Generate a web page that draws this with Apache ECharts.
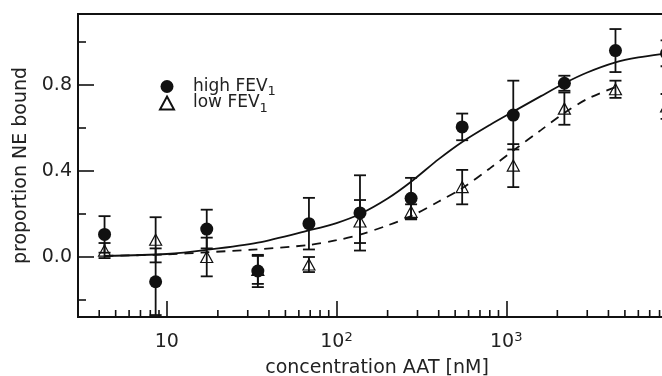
<!DOCTYPE html>
<html><head><meta charset="utf-8">
<script src="https://cdn.jsdelivr.net/npm/echarts@6/dist/echarts.min.js"></script>
<style>html,body{margin:0;padding:0;background:#fff}#c{width:662px;height:376px}</style>
</head><body><div id="c"></div>
<script>
// ---- data ----
const concentrations = [4.3, 8.6, 17.2, 34.4, 68.8, 137.5, 275, 550, 1100, 2200, 4400, 8800];
const highMean = [0.105, -0.115, 0.13, -0.065, 0.155, 0.205, 0.273, 0.605, 0.66, 0.808, 0.96, 0.947];
const highErr  = [0.085, 0.155, 0.09, 0.075, 0.12, 0.175, 0.095, 0.062, 0.16, 0.035, 0.10, 0.06];
const lowMean  = [0.03, 0.08, 0.0, -0.06, -0.035, 0.165, 0.21, 0.325, 0.425, 0.69, 0.78, 0.70];
const lowErr   = [0.035, 0.105, 0.09, 0.065, 0.035, 0.10, 0.035, 0.08, 0.10, 0.075, 0.04, 0.058];
const highFitX = [4.3, 10, 17.2, 34.4, 68.8, 100, 137.5, 200, 275, 400, 550, 800, 1100, 1600, 2200, 3000, 4400, 6000, 8800, 10000];
const highFit  = [0.005, 0.014, 0.033, 0.067, 0.124, 0.158, 0.200, 0.272, 0.35, 0.455, 0.535, 0.614, 0.676, 0.748, 0.808, 0.858, 0.905, 0.928, 0.947, 0.952];
const lowFitX  = [4.3, 10, 17.2, 34.4, 68.8, 100, 137.5, 200, 275, 400, 550, 800, 1100, 1600, 2200, 3000, 4400];
const lowFit   = [0.005, 0.012, 0.022, 0.036, 0.056, 0.078, 0.104, 0.147, 0.19, 0.258, 0.32, 0.412, 0.495, 0.59, 0.67, 0.735, 0.79];
const yMajorTicks = [0, 0.4, 0.8];
const yMinorTicks = [-0.2, 0.2, 0.6, 1.0];
const xMinorTicks = [4, 5, 6, 7, 8, 9, 20, 30, 40, 50, 60, 70, 80, 90, 200, 300, 400, 500, 600, 700, 800, 900, 2000, 3000, 4000, 5000, 6000, 7000, 8000, 9000];
const seriesNames = ['high FEV1', 'low FEV1'];

const Y_MIN = -0.279, Y_MAX = 1.13, X_MIN = 3, X_MAX = 10000;
const ink = '#111';
const font = 'DejaVu Sans';

function errData(mean, err) { return concentrations.map((c, i) => [c, mean[i], err[i]]); }
function renderErr(params, api) {
  const x = api.value(0), y = api.value(1), e = api.value(2);
  const t = api.coord([x, y + e]), b = api.coord([x, y - e]);
  const hw = 6, st = { stroke: ink, lineWidth: 1.8 };
  return { type: 'group', children: [
    { type: 'line', shape: { x1: t[0], y1: t[1], x2: b[0], y2: b[1] }, style: st },
    { type: 'line', shape: { x1: t[0] - hw, y1: t[1], x2: t[0] + hw, y2: t[1] }, style: st },
    { type: 'line', shape: { x1: b[0] - hw, y1: b[1], x2: b[0] + hw, y2: b[1] }, style: st }
  ]};
}

const chart = echarts.init(document.getElementById('c'), null, { renderer: 'canvas' });
chart.setOption({
  backgroundColor: '#fff',
  animation: false,
  grid: { left: 78, top: 14, width: 598, height: 303, outerBoundsMode: 'none', containLabel: false,
          show: true, borderColor: ink, borderWidth: 2, backgroundColor: 'transparent' },
  legend: {
    orient: 'vertical', left: 154, top: 73, itemWidth: 14, itemHeight: 13, itemGap: -4,
    data: [{ name: seriesNames[0], icon: 'circle' }, { name: seriesNames[1], icon: 'triangle' }],
    formatter: n => '{m|' + n.slice(0, -1) + '}{s|' + n.slice(-1) + '}',
    textStyle: { color: '#222', fontFamily: font, padding: [0, 0, 0, 14],
      rich: { m: { fontFamily: font, fontSize: 17, lineHeight: 24, color: '#222' },
              s: { fontFamily: font, fontSize: 13, lineHeight: 4, verticalAlign: 'bottom', color: '#222' } } }
  },
  xAxis: {
    type: 'log', logBase: 10, min: X_MIN, max: X_MAX,
    axisLine: { onZero: false, lineStyle: { color: ink, width: 2 } },
    axisTick: { inside: true, length: 16, lineStyle: { color: ink, width: 1.6 } },
    splitLine: { show: false },
    axisLabel: {
      margin: 14, showMinLabel: false, showMaxLabel: false,
      formatter: v => {
        const k = Math.round(Math.log10(v));
        if (Math.abs(v - Math.pow(10, k)) > 1e-6 * v) return '';
        return k === 1 ? '{b|10}' : '{b|10}{s|' + k + '}';
      },
      rich: { b: { fontFamily: font, fontSize: 19, lineHeight: 22, color: '#222' },
              s: { fontFamily: font, fontSize: 13, lineHeight: 7, verticalAlign: 'top', color: '#222' } }
    },
    name: 'concentration AAT [nM]', nameLocation: 'middle', nameGap: 42,
    nameTextStyle: { fontFamily: font, fontSize: 19, color: '#222' }
  },
  yAxis: [{
    type: 'value', min: Y_MIN, max: Y_MAX,
    axisLine: { show: true, onZero: false, lineStyle: { color: ink, width: 2 } },
    axisTick: { inside: true, length: 16, customValues: yMajorTicks, lineStyle: { color: ink, width: 1.6 } },
    axisLabel: { customValues: yMajorTicks, margin: 6, fontFamily: font, fontSize: 19, color: '#222', formatter: v => v.toFixed(1) },
    splitLine: { show: false },
    name: 'proportion NE bound', nameLocation: 'middle', nameGap: 47,
    nameTextStyle: { fontFamily: font, fontSize: 19, color: '#222' }
  }, {
    type: 'value', min: Y_MIN, max: Y_MAX, position: 'left',
    axisLine: { show: false, onZero: false },
    axisTick: { show: true, inside: true, length: 8, customValues: yMinorTicks, lineStyle: { color: ink, width: 1.6 } },
    axisLabel: { show: false }, splitLine: { show: false }
  }],
  series: [
    { type: 'scatter', silent: true, symbol: 'rect', symbolSize: [1.6, 7], symbolOffset: [0, -3.5],
      itemStyle: { color: ink, opacity: 1 }, data: xMinorTicks.map(v => [v, Y_MIN]), clip: false, z: 1 },
    { type: 'line', data: highFitX.map((x, i) => [x, highFit[i]]), smooth: 0.3, symbol: 'none',
      lineStyle: { color: ink, width: 1.8 }, z: 2 },
    { type: 'line', data: lowFitX.map((x, i) => [x, lowFit[i]]), smooth: 0.3, symbol: 'none',
      lineStyle: { color: ink, width: 1.8, type: [9, 7] }, z: 2 },
    { type: 'custom', renderItem: renderErr, data: errData(lowMean, lowErr), encode: { x: 0, y: 1 }, clip: true, z: 3 },
    { type: 'custom', renderItem: renderErr, data: errData(highMean, highErr), encode: { x: 0, y: 1 }, clip: true, z: 3 },
    { name: seriesNames[1], type: 'scatter', symbol: 'triangle', symbolSize: [12, 11],
      itemStyle: { color: 'rgba(255,255,255,0)', borderColor: ink, borderWidth: 1.2, opacity: 1 },
      data: concentrations.map((c, i) => [c, lowMean[i]]), z: 4 },
    { name: seriesNames[0], type: 'scatter', symbol: 'circle', symbolSize: 13,
      itemStyle: { color: ink, opacity: 1 },
      data: concentrations.map((c, i) => [c, highMean[i]]), z: 5 }
  ]
});
</script></body></html>
